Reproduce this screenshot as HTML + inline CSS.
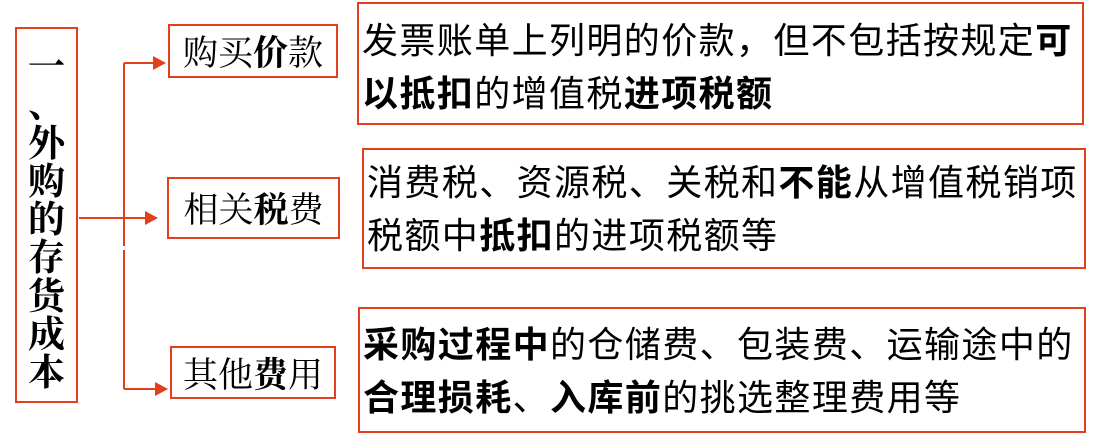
<!DOCTYPE html>
<html><head><meta charset="utf-8"><style>
body{margin:0;width:1108px;height:446px;background:#fff;position:relative;overflow:hidden;font-family:"Liberation Sans","Noto Sans CJK SC",sans-serif;color:#000}
.b{position:absolute;border:2px solid #e2401c;box-sizing:border-box}
.l{display:flex;align-items:center;justify-content:center;font-size:35px;white-space:nowrap;font-family:"Liberation Serif","Noto Serif CJK SC",serif}
.r{font-size:36px;line-height:53px;padding-left:3px;white-space:nowrap;letter-spacing:1.4px}
b{font-weight:bold}
.v{position:absolute;left:15px;top:27px;width:63px;height:376px;border:2px solid #e2401c;box-sizing:border-box;font-size:37px;font-weight:bold;line-height:38.3px;text-align:center;padding-top:20px;font-family:"Liberation Serif","Noto Serif CJK SC",serif}
</style></head><body>
<div class="v">一<br>、<br>外<br>购<br>的<br>存<br>货<br>成<br>本</div>
<svg width="1108" height="446" style="position:absolute;left:0;top:0">
<g stroke="#e2401c" stroke-width="2" fill="none">
<path d="M124 63V246M124 250V389"/>
<path d="M124 63H155M79 218H150M124 389H158"/>
</g>
<g fill="#e2401c">
<path d="M166 63L153 56V70Z"/>
<path d="M158 218L145 211V225Z"/>
<path d="M168 389L155 382V396Z"/>
</g>
</svg>
<div class="b l" style="left:168px;top:24px;width:170px;height:54px">购买<b>价</b>款</div>
<div class="b l" style="left:167px;top:177px;width:173px;height:62px">相关<b>税</b>费</div>
<div class="b l" style="left:170px;top:346px;width:166px;height:53px">其他<b>费</b>用</div>
<div class="b r" style="left:357px;top:2px;width:727px;height:123px;padding-top:10px">发票账单上列明的价款，但不包括按规定<b>可</b><br><b>以抵扣</b>的增值税<b>进项税额</b></div>
<div class="b r" style="left:362px;top:148px;width:724px;height:121px;padding-top:6px">消费税、资源税、关税和<b>不能</b>从增值税销项<br>税额中<b>抵扣</b>的进项税额等</div>
<div class="b r" style="left:358px;top:307px;width:728px;height:126px;padding-top:9px"><b>采购过程中</b>的仓储费、包装费、运输途中的<br><b>合理损耗</b>、<b>入库前</b>的挑选整理费用等</div>
</body></html>
